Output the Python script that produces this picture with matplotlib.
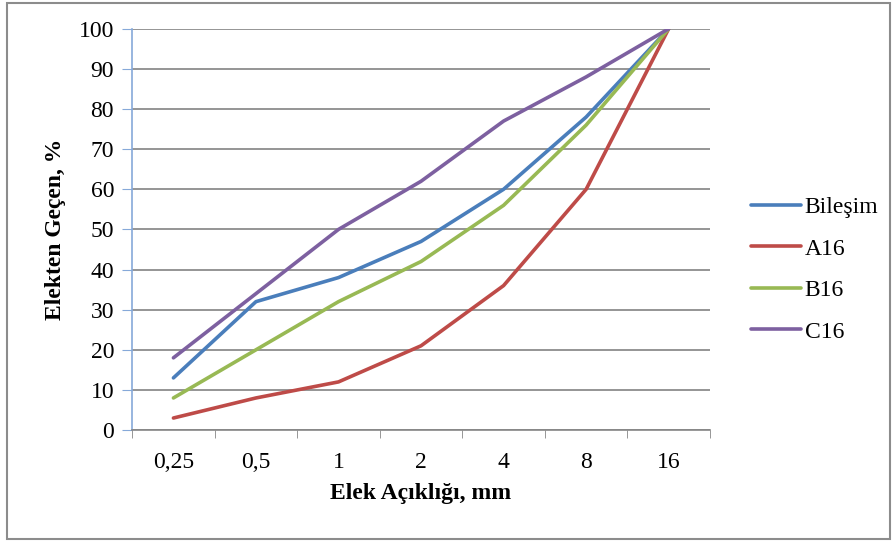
import matplotlib.pyplot as plt
from matplotlib.patches import Rectangle

categories = ["0,25", "0,5", "1", "2", "4", "8", "16"]
bilesim = [13, 32, 38, 47, 60, 78, 100]
a16 = [3, 8, 12, 21, 36, 60, 100]
b16 = [8, 20, 32, 42, 56, 76, 100]
c16 = [18, 34, 50, 62, 77, 88, 100]

series = [("Bileşim", bilesim, "#4A7EBB"),
          ("A16", a16, "#BE4B48"),
          ("B16", b16, "#98B954"),
          ("C16", c16, "#7D60A0")]

plt.rcParams['font.family'] = ['Liberation Serif', 'DejaVu Serif']
fs = 17

fig = plt.figure(figsize=(8.93, 5.43), dpi=100)
ax = fig.add_axes([0.148, 0.208, 0.647, 0.739])

x = list(range(len(categories)))
for name, vals, col in series:
    ax.plot(x, vals, color=col, lw=2.6, label=name, solid_capstyle='round', zorder=3)

ax.set_xlim(-0.5, len(categories) - 0.5)
ax.set_ylim(0, 100)
ax.set_yticks(range(0, 101, 10))
ax.set_xticks(x)
ax.set_xticklabels(categories)
ax.set_xticks([i - 0.5 for i in range(len(categories) + 1)], minor=True)
ax.tick_params(axis='x', which='major', length=0, pad=16, labelsize=fs)
ax.tick_params(axis='x', which='minor', length=6, direction='out', color='#868686')
ax.tick_params(axis='y', length=7, direction='out', color='#86A9D9', labelsize=fs, pad=6)

ax.grid(axis='y', color='#8C8C8C', lw=1.3)
ax.set_axisbelow(True)
for s in ['top', 'right']:
    ax.spines[s].set_visible(False)
ax.spines['left'].set_color('#86A9D9')
ax.spines['bottom'].set_color('#868686')
ax.spines['left'].set_linewidth(1.2)
ax.spines['bottom'].set_linewidth(1.2)

ax.set_xlabel("Elek Açıklığı, mm", fontsize=fs, fontweight='bold', labelpad=7)
ax.set_ylabel("Elekten Geçen, %", fontsize=fs, fontweight='bold', labelpad=9)

ax.legend(loc='center left', bbox_to_anchor=(1.035, 0.40), frameon=False,
          fontsize=fs, handlelength=2.1, handletextpad=0.15, labelspacing=0.85)

fig.patches.append(Rectangle((0.008, 0.008), 0.989, 0.986, transform=fig.transFigure,
                             fill=False, edgecolor='#8C8C8C', lw=1.5))

fig.savefig("out.png", dpi=100)
